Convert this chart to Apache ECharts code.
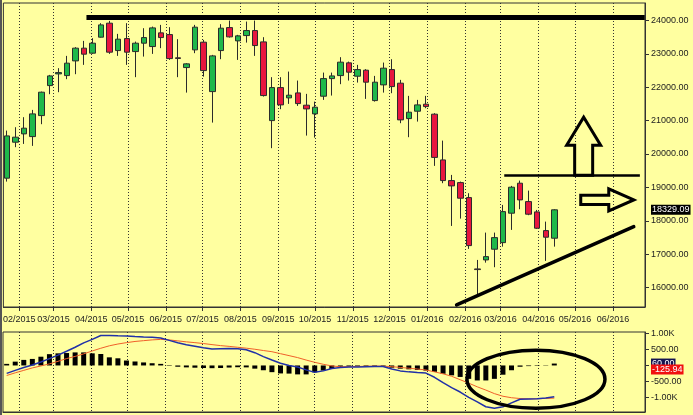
<!DOCTYPE html>
<html><head><meta charset="utf-8">
<script src="https://cdn.jsdelivr.net/npm/echarts@6/dist/echarts.min.js"></script>
<style>html,body{margin:0;padding:0;background:#FFFFA0;overflow:hidden}#c{width:693px;height:415px}
#edge{position:absolute;left:0;top:0;width:2px;height:415px;background:#555}</style>
</head><body><div id="c"></div><div id="edge"></div>
<script>
// ---- data ----
const weeks = ['2015-01-22','2015-01-29','2015-02-05','2015-02-12','2015-02-19','2015-02-26','2015-03-05','2015-03-12','2015-03-19','2015-03-26',
'2015-04-02','2015-04-09','2015-04-16','2015-04-23','2015-04-30','2015-05-07','2015-05-14','2015-05-21','2015-05-28','2015-06-04',
'2015-06-11','2015-06-18','2015-06-25','2015-07-02','2015-07-09','2015-07-16','2015-07-23','2015-07-30','2015-08-06','2015-08-13',
'2015-08-20','2015-08-27','2015-09-03','2015-09-10','2015-09-17','2015-09-24','2015-10-01','2015-10-08','2015-10-15','2015-10-22',
'2015-10-29','2015-11-05','2015-11-12','2015-11-19','2015-11-26','2015-12-03','2015-12-10','2015-12-17','2015-12-24','2015-12-31',
'2016-01-07','2016-01-14','2016-01-21','2016-01-28','2016-02-04','2016-02-11','2016-02-18','2016-02-25','2016-03-03','2016-03-10',
'2016-03-17','2016-03-24','2016-03-31','2016-04-07','2016-04-14'];
const opens  = [19276,20353,20602,20521,21150,22048,22398,22347,22787,23168,23018,23497,23916,23096,23455,23066,23317,23216,23626,23575,
22880,22587,23117,23347,21868,23096,23784,23386,23545,23695,23356,21000,21988,21680,21829,21461,21201,21730,22257,22347,
22728,22329,22509,21599,22069,22527,22120,21060,21281,21491,21192,19823,19204,19144,18695,16560,16829,17150,17347,18228,
19126,18575,18267,17707,17479];
const closes = [20542,20503,20773,21201,21850,22338,22437,22719,23168,22988,23317,23865,23048,23437,23048,23317,23485,23775,23485,22856,
22860,22698,23796,22497,22937,23766,23506,23536,23695,23246,21749,21988,21470,21760,21509,21350,21401,22257,22338,22749,
22449,22527,22150,22150,22569,22018,21021,21251,21470,21419,19898,19204,19045,18677,17258,16540,16928,17497,18275,19006,
18626,18198,17778,17509,18329.09];
const lows   = [19174,20204,20302,20243,20892,21790,21850,22240,22389,22668,22997,23485,22997,22937,22668,22300,22916,22997,23168,22817,
22300,21838,23018,22317,20940,22838,23485,22817,23335,22937,21719,20174,21341,21500,21440,20551,20491,21620,21749,22090,
22198,22138,21650,21569,21838,21820,20922,20503,20970,21371,19644,19126,17847,18066,17159,15802,16748,16611,17227,17728,
18347,18168,17757,16800,17227];
const highs  = [20701,20802,21102,21320,21868,22368,22569,22937,23198,23386,23467,23916,23985,23596,23916,23365,23766,23814,23865,23796,
23437,22718,23865,23416,22967,23886,23994,23566,23964,23994,23497,22300,22300,22467,22198,21800,21569,22437,22437,22898,
22766,22668,22539,22338,22737,22838,22219,21740,21620,21740,21222,20401,19374,19174,18826,16829,17647,17647,18476,19045,
19204,18904,18326,17976,18347];
const macdLine = [-247,-154,-62,15,108,216,324,447,571,710,818,941,941,932,926,910,895,886,864,787,
710,648,602,555,515,525,531,525,494,401,278,170,68,0,-46,-139,-216,-170,-93,-62,
-52,-46,-40,-34,-31,-108,-170,-201,-222,-238,-370,-540,-694,-833,-1003,-1142,-1296,-1342,-1296,-1173,
-1058,-1049,-1043,-1018,-978];
const signalLine = [-315,-231,-154,-77,-15,49,130,216,284,364,454,540,617,673,716,753,778,802,818,802,
772,741,716,688,654,623,599,571,543,509,469,432,370,309,247,170,99,37,-15,-40,
-37,-31,-25,-22,-22,-37,-62,-86,-111,-142,-201,-262,-339,-447,-555,-670,-772,-883,-966,-1012,
-1037,-1049,-1043,-1034,-1025];
const histogram = [50,120,175,205,275,355,380,390,410,410,380,360,255,225,155,125,95,70,50,-15,
-40,-60,-70,-80,-85,-80,-65,-55,-60,-100,-150,-210,-250,-255,-280,-280,-215,-160,-110,-60,
-40,-30,-25,-20,-20,-70,-100,-120,-140,-160,-200,-260,-310,-360,-420,-470,-470,-420,-290,-150,
-40,-20,-15,-10,60];
const monthTicks = ['2015-02-01','2015-03-01','2015-04-01','2015-05-01','2015-06-01','2015-07-01','2015-08-01','2015-09-01',
'2015-10-01','2015-11-01','2015-12-01','2016-01-01','2016-02-01','2016-03-01','2016-04-01','2016-05-01','2016-06-01'];
const lastPrice = 18329.09;
const macdTags = [{value: 60, text: '60.00'}, {value: -125.94, text: '-125.94'}];
// annotations (date, value)
const topLine = [['2015-03-28', 24090], ['2016-06-27', 24090]];
const resistance = [['2016-03-04', 19365], ['2016-06-23', 19365]];
const trendLine = [['2016-01-25', 15482], ['2016-06-18', 17826]];
const upArrowBase = ['2016-05-08', 19365];
const rightArrowTip = ['2016-06-18', 18626];
const ellipseCenter = ['2016-03-30', -432];

// ---- helpers ----
function ts(s){ const p = s.split('-').map(Number); return new Date(p[0], p[1]-1, p[2]).getTime(); }
const xMin = new Date(2015, 0, 19, 0).getTime();
const xMax = new Date(2016, 5, 27, 5).getTime();
const monthVals = monthTicks.map(ts);
const pad = n => (n < 10 ? '0' : '') + n;
const FONT = 'Liberation Sans, Arial, sans-serif';
const TXT = '#222';
const CLEAR = 'rgba(0,0,0,0)';

const candleData = weeks.map((w, i) => [ts(w), opens[i], closes[i], lows[i], highs[i]]);
const macdData = weeks.map((w, i) => [ts(w), macdLine[i]]);
const sigData = weeks.map((w, i) => [ts(w), signalLine[i]]);
const histData = weeks.map((w, i) => [ts(w), histogram[i]]);
function seg(a, width, cap) {
  return [{coord: [ts(a[0][0]), a[0][1]], lineStyle: {color: '#000', width: width, type: 'solid', cap: cap, opacity: 1}, label: {show: false}},
          {coord: [ts(a[1][0]), a[1][1]]}];
}
function tag(value, text, bg) {
  return {yAxis: value, lineStyle: {color: CLEAR, width: 0, opacity: 1},
    label: {show: true, position: 'end', distance: 6, formatter: text, color: '#fff', opacity: 1, backgroundColor: bg,
      padding: [1, 1, 0, 1], fontSize: 9, fontFamily: FONT}};
}

const chart = echarts.init(document.getElementById('c'), null, {renderer: 'canvas'});
const xCommon = {
  type: 'value', min: xMin, max: xMax, scale: true,
  axisLine: {show: true, onZero: false, lineStyle: {color: '#333', width: 1}},
  splitLine: {show: true, lineStyle: {color: '#333', type: [1, 2], width: 1}}
};
chart.setOption({
  animation: false,
  backgroundColor: '#FFFFA0',
  textStyle: {fontFamily: FONT},
  grid: [
    {left: 3, right: 48, top: 3, height: 304, show: true, borderColor: '#333', borderWidth: 1, backgroundColor: 'transparent'},
    {left: 3, right: 48, top: 332, height: 80, show: true, borderColor: '#333', borderWidth: 1, backgroundColor: 'transparent'}
  ],
  xAxis: [
    Object.assign({}, xCommon, {
      gridIndex: 0,
      axisTick: {show: true, customValues: monthVals, length: 4, inside: false, lineStyle: {color: '#333'}},
      axisLabel: {show: true, customValues: monthVals, fontSize: 9, color: TXT, margin: 8, fontFamily: FONT, hideOverlap: false,
        formatter: v => { const d = new Date(v); return pad(d.getMonth() + 1) + '/' + d.getFullYear(); }}
    }),
    Object.assign({}, xCommon, {
      gridIndex: 1,
      axisTick: {show: true, customValues: monthVals, length: 0, lineStyle: {opacity: 0}},
      axisLabel: {show: false, customValues: monthVals}
    })
  ],
  yAxis: [
    {type: 'value', gridIndex: 0, position: 'right', min: 15420, max: 24520, splitNumber: 9, scale: true,
      axisLine: {show: true, onZero: false, lineStyle: {color: '#333'}},
      axisTick: {show: true, length: 4, lineStyle: {color: '#333'}},
      splitLine: {show: false},
      axisLabel: {fontSize: 9, color: TXT, margin: 6, fontFamily: FONT, showMinLabel: false, showMaxLabel: false,
        formatter: v => v.toFixed(2)}},
    {type: 'value', gridIndex: 1, position: 'right', min: -1460, max: 1050, splitNumber: 5,
      axisLine: {show: true, onZero: false, lineStyle: {color: '#333'}},
      axisTick: {show: true, length: 4, lineStyle: {color: '#333'}},
      splitLine: {show: false},
      axisLabel: {fontSize: 9, color: TXT, margin: 6, fontFamily: FONT, showMinLabel: false, showMaxLabel: false,
        formatter: v => Math.abs(v) >= 1000 ? (v / 1000).toFixed(2) + 'K' : v.toFixed(2)}}
  ],
  series: [
    {type: 'candlestick', xAxisIndex: 0, yAxisIndex: 0, data: candleData, encode: {x: 0, y: [1, 2, 3, 4]},
      barWidth: 6, z: 3, clip: false,
      itemStyle: {color: '#1FB84A', color0: '#E8163E', borderColor: '#2b2b2b', borderColor0: '#2b2b2b', borderWidth: 1},
      markLine: {silent: true, symbol: ['none', 'none'], animation: false, z: 6,
        data: [
          tag(lastPrice, lastPrice.toFixed(2), '#000'),
          seg(topLine, 5, 'butt'),
          seg(resistance, 2.5, 'butt'),
          seg(trendLine, 3.5, 'round')
        ]
      }
    },
    {type: 'custom', xAxisIndex: 0, yAxisIndex: 0, z: 10, silent: true, clip: false,
      data: [[ts(upArrowBase[0]), upArrowBase[1]]], encode: {x: 0, y: 1},
      renderItem: (p, api) => {
        const c = api.coord([api.value(0), api.value(1)]);
        const x = c[0], y = c[1];
        return {type: 'polygon', shape: {points: [[x - 9, y], [x - 9, y - 30], [x - 17, y - 30], [x, y - 58], [x + 17, y - 30], [x + 9, y - 30], [x + 9, y]]},
          style: {fill: 'none', stroke: '#000', lineWidth: 3, lineJoin: 'miter'}};
      }},
    {type: 'custom', xAxisIndex: 0, yAxisIndex: 0, z: 10, silent: true, clip: false,
      data: [[ts(rightArrowTip[0]), rightArrowTip[1]]], encode: {x: 0, y: 1},
      renderItem: (p, api) => {
        const c = api.coord([api.value(0), api.value(1)]);
        const x = c[0], y = c[1];
        return {type: 'polygon', shape: {points: [[x, y], [x - 25, y - 11], [x - 25, y - 4.7], [x - 53, y - 4.7], [x - 53, y + 4.7], [x - 25, y + 4.7], [x - 25, y + 11]]},
          style: {fill: 'none', stroke: '#000', lineWidth: 3, lineJoin: 'miter'}};
      }},
    {type: 'bar', xAxisIndex: 1, yAxisIndex: 1, data: histData, barWidth: 5, itemStyle: {color: '#000'}, z: 2, clip: false,
      markLine: {silent: true, symbol: ['none', 'none'], animation: false, z: 6,
        data: macdTags.map((t, i) => tag(t.value, t.text, i === 0 ? '#141450' : '#F01010'))
      }},
    {type: 'line', xAxisIndex: 1, yAxisIndex: 1, data: sigData, showSymbol: false, symbol: 'none', z: 3,
      lineStyle: {color: '#F0602A', width: 1}},
    {type: 'line', xAxisIndex: 1, yAxisIndex: 1, data: macdData, showSymbol: false, symbol: 'none', z: 4,
      lineStyle: {color: '#2030A8', width: 1.5}},
    {type: 'custom', xAxisIndex: 1, yAxisIndex: 1, z: 10, silent: true, clip: false,
      data: [[ts(ellipseCenter[0]), ellipseCenter[1]]], encode: {x: 0, y: 1},
      renderItem: (p, api) => {
        const c = api.coord([api.value(0), api.value(1)]);
        return {type: 'ellipse', shape: {cx: c[0], cy: c[1], rx: 69, ry: 29},
          style: {fill: 'none', stroke: '#000', lineWidth: 3.5}};
      }}
  ]
});
</script>
</body></html>
